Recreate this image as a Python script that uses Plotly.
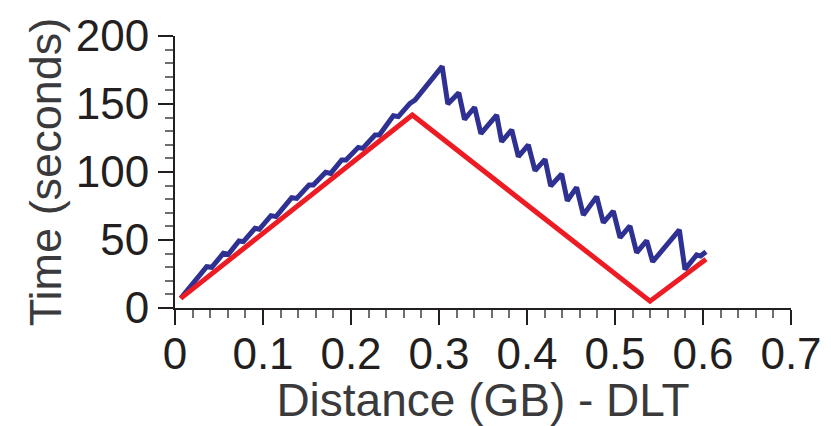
import plotly.graph_objects as go

# Blue series (DLT measured) - distance (GB) vs time (s)
blue_x = [0.0065, 0.036, 0.0417, 0.0549, 0.0606, 0.0727, 0.0777, 0.0909, 0.0958, 0.109,
          0.1148, 0.1326, 0.1383, 0.1523, 0.1572, 0.1712, 0.1769, 0.1894, 0.1943, 0.2083,
          0.2133, 0.2273, 0.2322, 0.2481, 0.2538, 0.267, 0.2727, 0.3036,
          0.3100, 0.3225, 0.3290, 0.3405, 0.3476, 0.3655, 0.3712, 0.3826, 0.3902, 0.4015,
          0.4091, 0.4205, 0.4269, 0.4394, 0.4458, 0.4564, 0.464, 0.4792, 0.4867, 0.4981,
          0.5057, 0.517, 0.5246, 0.536, 0.5428, 0.5731, 0.5795, 0.5928, 0.5973, 0.6034]
blue_y = [7.1, 30.4, 29.9, 40.2, 39.5, 49.3, 48.8, 58.6, 57.9, 67.9,
          67.2, 81.1, 80.6, 90.4, 90.4, 99.8, 99.0, 108.8, 108.8, 118.1,
          117.4, 127.2, 127.2, 141.4, 140.7, 150.5, 152.9, 177.7,
          150.0, 158.3, 138.7, 147.6, 128.2, 141.9, 122.3, 130.9, 111.3, 119.9,
          101.0, 109.3, 89.7, 98.5, 78.9, 88.7, 68.4, 81.9, 62.7, 71.3,
          51.7, 60.3, 40.7, 49.5, 34.0, 57.4, 28.4, 39.0, 38.2, 41.4]

# Red series (ideal)
red_x = [0.0065, 0.2697, 0.5398, 0.6034]
red_y = [7.1, 141.9, 5.0, 35.8]

x_ticks = [0, 0.1, 0.2, 0.3, 0.4, 0.5, 0.6, 0.7]
x_tick_labels = ["0", "0.1", "0.2", "0.3", "0.4", "0.5", "0.6", "0.7"]
y_ticks = [0, 50, 100, 150, 200]
y_tick_labels = ["0", "50", "100", "150", "200"]

FONT = "Liberation Sans, Arial, sans-serif"
AXC = "#231f20"

fig = go.Figure()
fig.add_trace(go.Scatter(x=blue_x, y=blue_y, mode="lines",
                         line=dict(color="#2E3192", width=5), showlegend=False))
fig.add_trace(go.Scatter(x=red_x, y=red_y, mode="lines",
                         line=dict(color="#ED1C24", width=5), showlegend=False))

fig.update_layout(
    width=831, height=426,
    margin=dict(l=175, r=40, t=36, b=118),
    paper_bgcolor="white", plot_bgcolor="white",
    font=dict(family=FONT, color=AXC),
    showlegend=False,
)
fig.update_xaxes(
    range=[0, 0.7], tickvals=x_ticks, ticktext=x_tick_labels,
    showgrid=False, zeroline=False, automargin=False,
    showline=True, linecolor=AXC, linewidth=2,
    ticks="outside", ticklen=15, tickwidth=1.5, tickcolor=AXC,
    tickfont=dict(size=44, color=AXC), ticklabelstandoff=-9,
    minor=dict(dtick=0.02, tick0=0, ticks="outside", ticklen=8, tickwidth=1.5, tickcolor="#6d6e71"),
    title=dict(text="Distance (GB) - DLT", font=dict(size=46, color="#3a3a3c"), standoff=0),
)
fig.update_yaxes(
    range=[0, 200], tickvals=y_ticks, ticktext=y_tick_labels,
    showgrid=False, zeroline=False, automargin=False,
    showline=True, linecolor=AXC, linewidth=2,
    ticks="outside", ticklen=15, tickwidth=1.5, tickcolor=AXC,
    tickfont=dict(size=44, color=AXC),
    minor=dict(dtick=10, tick0=0, ticks="outside", ticklen=8, tickwidth=1.5, tickcolor="#6d6e71"),
    title=dict(text="Time (seconds)", font=dict(size=45, color="#3a3a3c"), standoff=0),
)

fig.write_html("out.html")
